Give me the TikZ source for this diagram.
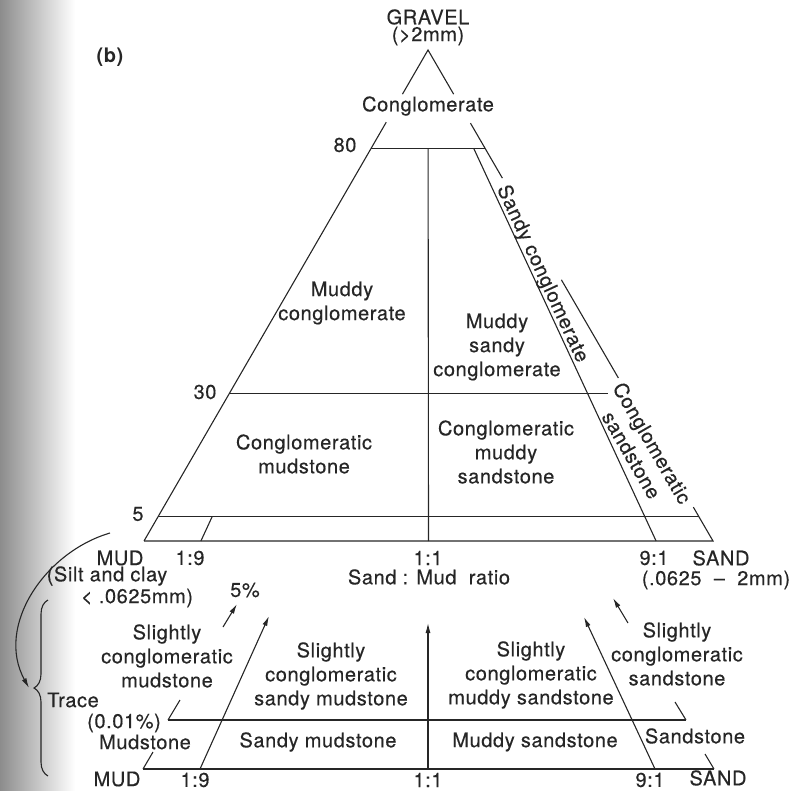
\documentclass[tikz,border=0pt]{standalone}
\usepackage{fontspec}
\setmainfont{TeX Gyre Heros}[LetterSpace=3, UprightFeatures={FakeBold=0.4}]
\usepackage{tikz}
\usetikzlibrary{arrows.meta,calc,decorations.pathreplacing}

\begin{document}
\begin{tikzpicture}[
    x=1pt, y=-1pt,
    edge/.style={line width=1.1pt, black!85},
    lbl/.style={
        font=\fontsize{20}{24}\selectfont, text=black!85,
        align=center, inner sep=0pt
    },
    arr/.style={-{Latex[length=10pt,width=5pt]}, line width=1.1pt, black!85},
    bracestyle/.style={line width=1.1pt, black!85, decorate,
        decoration={brace, amplitude=14pt, aspect=0.5}}
]
    \useasboundingbox (0,0) rectangle (794,791);
    \shade[left color=black!45, right color=white] (0,0) rectangle (75,791);

    % Corners of the triangle
    \coordinate (G) at (428,50);
    \coordinate (M) at (144,541);
    \coordinate (S) at (713,541);
    \coordinate (r19) at ($(M)!0.1!(S)$);
    \coordinate (r11) at ($(M)!0.5!(S)$);
    \coordinate (r91) at ($(M)!0.9!(S)$);

    % Sides, broken where the labels sit
    \draw[edge] ($(M)!0.91!(G)$) -- (G) -- ($(S)!0.91!(G)$);
    \draw[edge] (M) -- ($(M)!0.853!(G)$);
    \draw[edge] ($(S)!0.851!(G)$) -- ($(S)!0.739!(G)$);
    \draw[edge] ($(S)!0.532!(G)$) -- ($(S)!0.332!(G)$);
    \draw[edge] ($(S)!0.069!(G)$) -- (S) -- (M);

    % Gravel levels
    \draw[edge] ($(M)!0.8!(G)$) -- ($(S)!0.8!(G)$);
    \draw[edge] ($(M)!0.3!(G)$) -- ($(S)!0.3!(G)+(-20,0)$);
    \draw[edge] ($(M)!0.05!(G)$) -- ($(S)!0.05!(G)$);

    % Sand : mud ratios
    \draw[edge] (r11) -- ($(r11)!0.8!(G)$);
    \draw[edge] (r91) -- ($(r91)!0.8!(G)$);
    \draw[edge] (r19) -- ($(r19)!0.05!(G)$);

    \node[lbl] (gravel) at (428,17) {GRAVEL};
    \node[lbl] (gravelsize) at (428,36) {(>2mm)};
    \node[lbl, font=\fontsize{20}{24}\selectfont\bfseries] (panel) at (110,57) {(b)};
    \node[lbl] (congl) at (428,106) {Conglomerate};
    \node[lbl] (p80) at (345,145) {80};
    \node[lbl] (p30) at (205,392) {30};
    \node[lbl] (p5) at (138,514) {5};

    \node[lbl] (mcongl) at (342,303) {Muddy\\conglomerate};
    \node[lbl] (mscongl) at (497,347) {Muddy\\sandy\\conglomerate};
    \node[lbl] (cmud) at (304,454) {Conglomeratic\\mudstone};
    \node[lbl] (cmsand) at (506,452) {Conglomeratic\\muddy\\sandstone};
    \node[lbl, rotate=-65.2] (scongl) at (542,274) {Sandy conglomerate};
    \node[lbl, rotate=-60] (csand) at (642,449) {Conglomeratic\\sandstone};

    % Ratio axis
    \node[lbl] (mud) at (120,558) {MUD};
    \node[lbl] (t19) at (190,558) {1:9};
    \node[lbl] (t11) at (428,558) {1:1};
    \node[lbl] (t91) at (654,558) {9:1};
    \node[lbl] (sand) at (721,558) {SAND};
    \node[lbl] (mudsize) at (107,576) {(Silt and clay};
    \node[lbl] (mudsizeb) at (137,598) {< .0625mm)};
    \node[lbl] (ratio) at (429,577) {Sand : Mud\ \ ratio};
    \node[lbl] (sandsize) at (716,580) {(.0625 \ \textendash\ \ 2mm)};

    % Trace to 5% strip
    \coordinate (BM) at (143,769);
    \coordinate (BS) at (714,769);
    \coordinate (TM) at (168,720);
    \coordinate (TS) at (686,720);
    \draw[edge] (BM) -- (BS);
    \draw[edge] (TM) -- (TS);
    \draw[edge] (BM) -- ++(10,-17);
    \draw[edge] (TM) -- ++(12,-20);
    \draw[edge] (BS) -- ++(-9,-15);
    \draw[edge] (TS) -- ++(-11,-18);

    \coordinate (a19) at (200,769);
    \coordinate (a19tip) at (269,616);
    \coordinate (a11) at (428,769);
    \coordinate (a11tip) at (428,623);
    \coordinate (a91) at (655,769);
    \coordinate (a91tip) at (584,617);
    \coordinate (pcl) at (223,627);
    \coordinate (pcltip) at (237,604);
    \coordinate (pcr) at (628,623);
    \coordinate (pcrtip) at (613,598);
    \draw[arr] (a19) -- (a19tip);
    \draw[arr] (a11) -- (a11tip);
    \draw[arr] (a91) -- (a91tip);
    \draw[arr] (pcl) -- (pcltip);
    \draw[arr] (pcr) -- (pcrtip);

    \node[lbl] (pc5) at (245,590) {5\%};
    \node[lbl] (scmud) at (167,656) {Slightly\\conglomeratic\\mudstone};
    \node[lbl] (scsmud) at (331,676) {Slightly\\conglomeratic\\sandy mudstone};
    \node[lbl] (scmsand) at (531,675) {Slightly\\conglomeratic\\muddy sandstone};
    \node[lbl] (scsand) at (677,654) {Slightly\\conglomeratic\\sandstone};
    \node[lbl] (trace) at (73,700) {Trace};
    \node[lbl] (tracepc) at (124,723) {(0.01\%)};
    \node[lbl] (mudst) at (145,742) {Mudstone};
    \node[lbl] (smud) at (318,742) {Sandy mudstone};
    \node[lbl] (msand) at (535,742) {Muddy sandstone};
    \node[lbl] (sandst) at (695,736) {Sandstone};
    \node[lbl] (bmud) at (117,779) {MUD};
    \node[lbl] (b19) at (195,780) {1:9};
    \node[lbl] (b11) at (428,780) {1:1};
    \node[lbl] (b91) at (650,780) {9:1};
    \node[lbl] (bsand) at (718,778) {SAND};

    % Mud corner blown up below
    \coordinate (brbot) at (48,776);
    \coordinate (brtop) at (48,600);
    \draw[bracestyle] (brbot) -- (brtop);
    \coordinate (zoomfrom) at (110,533);
    \coordinate (zoomto) at (29,688);
    \draw[arr] (zoomfrom) .. controls (45,552) and (-5,626) .. (zoomto);
\end{tikzpicture}
\end{document}
